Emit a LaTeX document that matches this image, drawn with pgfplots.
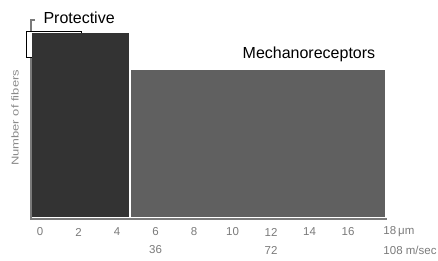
\documentclass[border=0pt]{standalone}
\usepackage{fontspec}
\setmainfont{Liberation Sans}
\usepackage{pgfplots}
\pgfplotsset{compat=1.18}
\definecolor{darkbar}{HTML}{333333}
\definecolor{graybar}{HTML}{606060}
\definecolor{ticklab}{HTML}{7A7A7A}
\definecolor{ylab}{HTML}{8A8A8A}
\begin{document}
\begin{tikzpicture}
\useasboundingbox (0,0) rectangle (438pt,261pt);
\begin{axis}[
  at={(31pt,42pt)}, anchor=south west,
  scale only axis, width=355.5pt, height=199pt,
  xmin=-0.47, xmax=18, ymin=0, ymax=100,
  clip=false,
  axis line style={draw=none},
  tick style={draw=none},
  ytick=\empty,
  xtick={0,2,...,16},
  xticklabels={0,2,4,6,8,10,12,14,16},
  xticklabel style={font=\fontsize{11.5}{13}\selectfont, text=ticklab, anchor=center, yshift=-13pt},
  /pgf/number format/assume math mode=true,
]
\addplot[ticklab, line width=1.3pt] coordinates {(-0.26,100) (-0.47,100) (-0.47,0) (18,0)};
\addplot[black, fill=white, line width=0.7pt] coordinates {(-0.73,81.4) (-0.73,94.5) (2.13,94.5) (2.13,81.4)} --cycle;
\addplot[draw=none, fill=darkbar] coordinates {(-0.42,1) (-0.42,93.5) (4.62,93.5) (4.62,1)} --cycle;
\addplot[draw=none, fill=graybar] coordinates {(4.73,1) (4.73,74.9) (17.92,74.9) (17.92,1)} --cycle;
\node[font=\fontsize{16}{19}\selectfont] at (axis cs:2.03,101) {Protective};
\node[font=\fontsize{16}{19}\selectfont] at (axis cs:13.97,82.9) {Mechanoreceptors};
\node[rotate=90, text=ylab, font=\fontsize{10}{12}\selectfont] at (axis cs:-1.30,50.8) {\scalebox{1.3}[1]{Number of fibers}};
\node[anchor=west, text=ticklab, font=\fontsize{11.5}{13}\selectfont, yshift=-13pt] at (axis cs:17.66,0) {18\,μm};
\node[text=ticklab, font=\fontsize{11.5}{13}\selectfont, yshift=-31pt] at (axis cs:6,0) {36};
\node[text=ticklab, font=\fontsize{11.5}{13}\selectfont, yshift=-31pt] at (axis cs:12,0) {72};
\node[anchor=west, text=ticklab, font=\fontsize{11.5}{13}\selectfont, yshift=-31pt] at (axis cs:17.66,0) {108 m/sec};
\end{axis}
\end{tikzpicture}
\end{document}
